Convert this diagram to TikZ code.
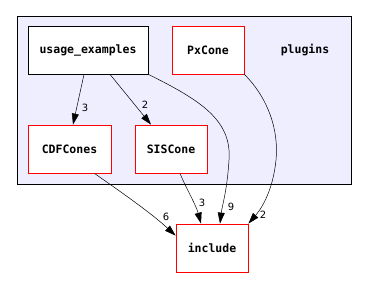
\documentclass[tikz,border=0pt]{standalone}
\usepackage{fontspec}
\usepackage{tikz}
\usetikzlibrary{arrows.meta, calc}
\newfontfamily\dirfont{DejaVu Sans Mono}
\setmainfont{DejaVu Sans}
\definecolor{DGLav}{RGB}{238,238,255}
\definecolor{DGRed}{RGB}{255,0,0}

\begin{document}
\begin{tikzpicture}[x=1pt, y=-1pt,
          cluster/.style={rectangle, draw=black, fill=DGLav, line width=0.8pt},
          dirbox/.style={rectangle, draw=DGRed, fill=white, line width=0.8pt,
                         minimum width=72pt, minimum height=48pt,
                         font=\dirfont\bfseries\fontsize{11.5}{12}\selectfont},
          cnt/.style={font=\fontsize{10}{11}\selectfont, inner sep=0pt},
          arr/.style={-{Triangle[length=11pt, width=7pt]}, line width=0.5pt}
        ]
        \useasboundingbox (0,0) rectangle (366,289);
        % plugins cluster
        \draw[cluster] (17,16) rectangle (351,184);
        \node[font=\dirfont\bfseries\fontsize{11.5}{12}\selectfont]
              (plg) at (305,50) {plugins};
        % directories inside plugins
        \node[dirbox, draw=black, minimum width=120pt]
              (ue) at (88,50) {usage\_examples};
        \node[dirbox] (px) at (208,50) {PxCone};
        \node[dirbox, minimum width=83pt] (cdf) at (69.5,149) {CDFCones};
        \node[dirbox] (sis) at (171,149) {SISCone};
        % include directory
        \node[dirbox] (inc) at (212,248) {include};

        % dependencies
        \draw[arr] ([xshift=-4pt]ue.south) -- ([xshift=3.5pt]cdf.north);
        \draw[arr] ([xshift=22pt]ue.south) -- ([xshift=-20pt]sis.north);
        \draw[arr] (ue.south east)
              .. controls (200,100) and (232,120) .. (229,160)
              .. controls (227,192) and (222,206) .. ([xshift=8pt]inc.north);
        \draw[arr] (px.south east)
              .. controls (268,98) and (279,130) .. (276,160)
              .. controls (273,190) and (262,208) .. (inc.north east);
        \draw[arr] ([xshift=25pt]cdf.south)
              .. controls (118,190) and (150,212) .. ([yshift=-12pt]inc.north west);
        \draw[arr] ([xshift=9pt]sis.south)
              .. controls (186,188) and (196,205) .. ([xshift=-11pt]inc.north);

        % counts
        \node[cnt] (n1) at (85,108) {3};
        \node[cnt] (n2) at (145,105) {2};
        \node[cnt] (n3) at (231,207) {9};
        \node[cnt] (n4) at (263,215) {2};
        \node[cnt] (n5) at (166,217) {6};
        \node[cnt] (n6) at (202,203) {3};
      \end{tikzpicture}
\end{document}
